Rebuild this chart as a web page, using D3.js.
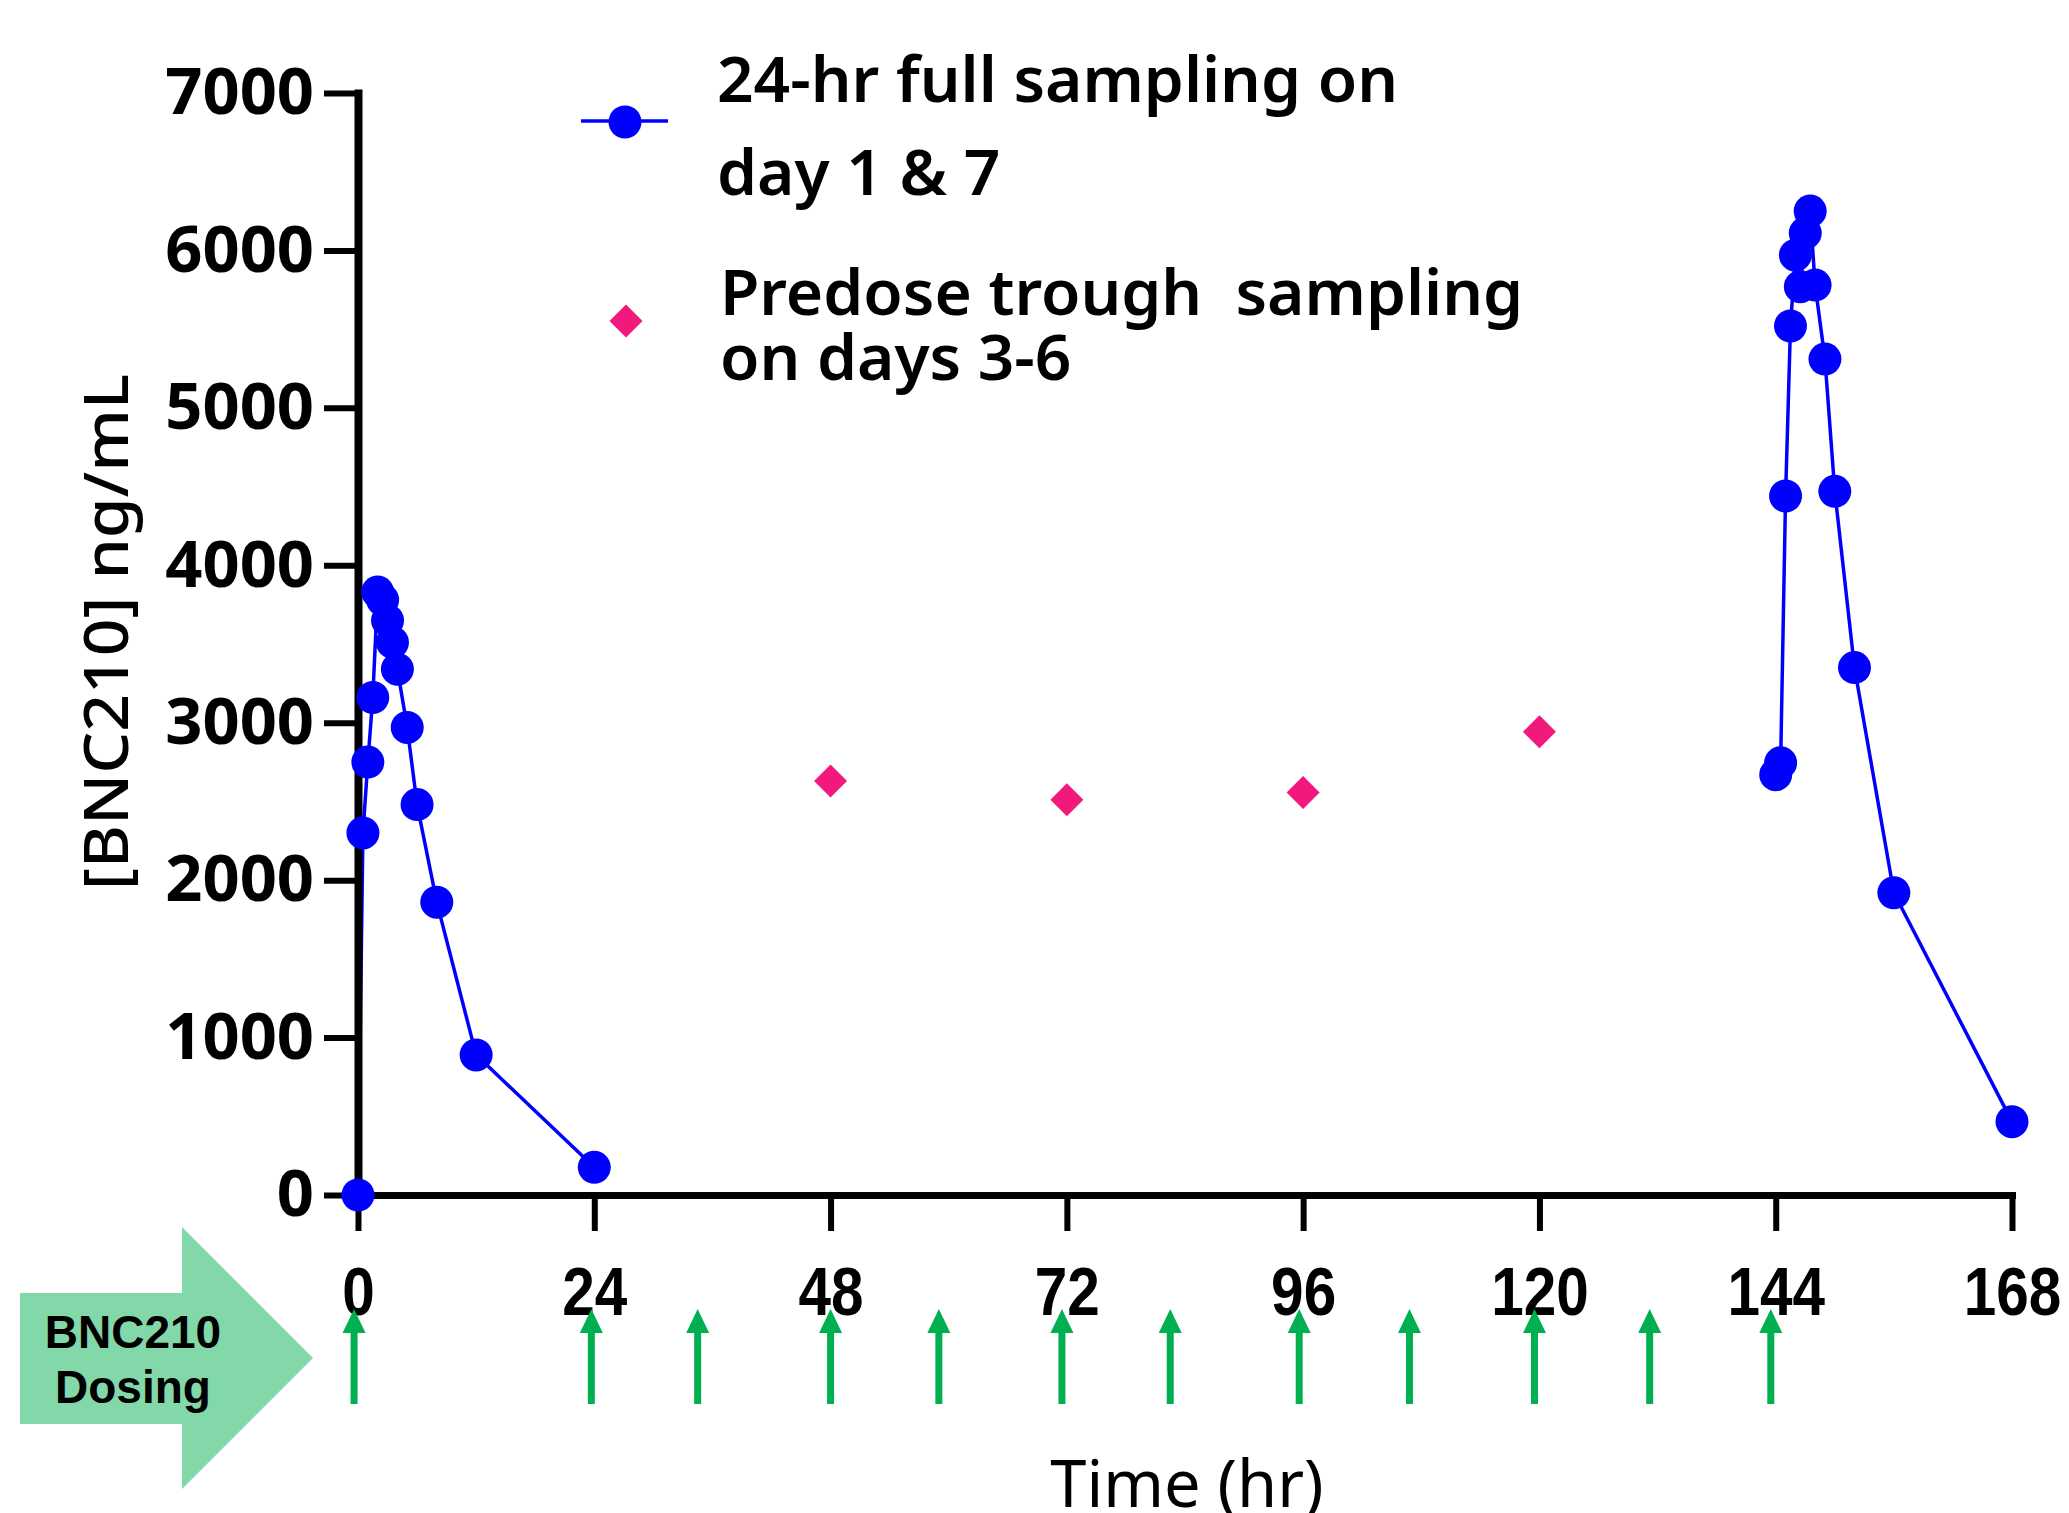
<!DOCTYPE html>
<html>
<head>
<meta charset="utf-8">
<script src="https://cdn.jsdelivr.net/npm/d3@7"></script>
<style>
  body { margin: 0; background: #fff; }
  svg { display: block; }
</style>
</head>
<body>
<div class="chart"></div>
<script>
// day 1 and day 7 full profiles (hr, ng/mL)
var timeDay1 = [0, 0.5, 1, 1.5, 2, 2.5, 3, 3.5, 4, 5, 6, 8, 12, 24];
var concDay1 = [0, 2300, 2750, 3160, 3830, 3780, 3650, 3510, 3340, 2970, 2480, 1860, 890, 176];
var timeDay7 = [144, 144.5, 145, 145.5, 146, 146.5, 147, 147.5, 148, 149, 150, 152, 156, 168];
var concDay7 = [2670, 2745, 4440, 5520, 5970, 5770, 6110, 6250, 5780, 5310, 4470, 3350, 1920, 466];

// predose troughs days 3-6
var troughTime = [48, 72, 96, 120];
var troughConc = [2630, 2510, 2557, 2942];

// dosing arrows (hr)
var doseTimes = [-0.4, 23.7, 34.5, 48, 59, 71.5, 82.5, 95.6, 106.8, 119.5, 131.2, 143.5];

var xTicks = [0, 24, 48, 72, 96, 120, 144, 168];
var yTicks = [0, 1000, 2000, 3000, 4000, 5000, 6000, 7000];

var legendLabels = [["24-hr full sampling on", "day 1 & 7"], ["Predose trough  sampling", "on days 3-6"]];

var svgWidth = 2069;
var svgHeight = 1513;

var svg = d3.select(".chart")
  .append("svg")
  .attr("width", svgWidth)
  .attr("height", svgHeight)
  .style("background", "#fff");

var x = d3.scaleLinear().domain([0, 168]).range([358, 2012]);
var y = d3.scaleLinear().domain([0, 7000]).range([1195, 93]);

var blue = "#0000ff";
var pink = "#f2197c";
var green = "#00b050";

// profile lines (drawn first so the axis covers the 0 -> 0.5 hr segment)
var line = d3.line().x(d => x(d[0])).y(d => y(d[1]));
var profiles = [d3.zip(timeDay1, concDay1), d3.zip(timeDay7, concDay7)];

svg.selectAll(".profile")
  .data(profiles)
  .enter()
  .append("path")
  .attr("class", "profile")
  .attr("d", line)
  .attr("fill", "none")
  .attr("stroke", blue)
  .attr("stroke-width", 3.5);

// y axis
var yAxis = svg.append("g")
  .attr("transform", "translate(358,0)")
  .call(d3.axisLeft(y).tickValues(yTicks).tickSize(34).tickSizeOuter(0).tickPadding(10).tickFormat(d3.format("d")));
yAxis.select(".domain").attr("stroke", "#000").attr("stroke-width", 8).attr("stroke-linecap", "square");
yAxis.selectAll(".tick line").attr("stroke", "#000").attr("stroke-width", 6);
yAxis.selectAll(".tick text")
  .attr("fill", "#000")
  .style("font-family", "'Noto Sans', sans-serif")
  .style("font-weight", 700)
  .style("font-size", "65px");

// x axis
var xAxis = svg.append("g")
  .attr("transform", "translate(0,1195)")
  .call(d3.axisBottom(x).tickValues(xTicks).tickSize(36).tickSizeOuter(0).tickPadding(36));
xAxis.select(".domain").attr("stroke", "#000").attr("stroke-width", 7).attr("stroke-linecap", "square");
xAxis.selectAll(".tick line").attr("stroke", "#000").attr("stroke-width", 6);
xAxis.selectAll(".tick text")
  .attr("fill", "#000")
  .attr("transform", "scale(0.86,1)")
  .style("font-family", "'Liberation Sans', Arial, sans-serif")
  .style("font-weight", 700)
  .style("font-size", "68px");

// axis titles
svg.append("text")
  .attr("transform", "translate(128,632) rotate(-90)")
  .attr("text-anchor", "middle")
  .attr("textLength", 516)
  .attr("lengthAdjust", "spacingAndGlyphs")
  .style("font-family", "'Noto Sans', sans-serif")
  .style("font-weight", 500)
  .style("font-size", "61px")
  .text("[BNC210] ng/mL");

svg.append("text")
  .attr("x", 1187)
  .attr("y", 1507)
  .attr("text-anchor", "middle")
  .style("font-family", "'Noto Sans', sans-serif")
  .style("font-size", "65px")
  .text("Time (hr)");

// sample points
svg.selectAll(".pt")
  .data(profiles[0].concat(profiles[1]))
  .enter()
  .append("circle")
  .attr("class", "pt")
  .attr("cx", d => x(d[0]))
  .attr("cy", d => y(d[1]))
  .attr("r", 16.5)
  .attr("fill", blue);

// trough diamonds
var diamond = "M0,-16.5L16.5,0L0,16.5L-16.5,0Z";
svg.selectAll(".trough")
  .data(d3.zip(troughTime, troughConc))
  .enter()
  .append("path")
  .attr("class", "trough")
  .attr("d", diamond)
  .attr("transform", d => `translate(${x(d[0])},${y(d[1])})`)
  .attr("fill", pink);

// legend
var legend = svg.append("g");
legend.append("line")
  .attr("x1", 581).attr("x2", 668)
  .attr("y1", 121).attr("y2", 121)
  .attr("stroke", blue).attr("stroke-width", 3.5);
legend.append("circle").attr("cx", 625).attr("cy", 122).attr("r", 16.5).attr("fill", blue);
legend.append("path").attr("d", diamond).attr("transform", "translate(626,321)").attr("fill", pink);

var legendText = legend.selectAll(".lg")
  .data([{ x: 717, y: [102, 195], t: legendLabels[0] }, { x: 720, y: [315, 380], t: legendLabels[1] }])
  .enter()
  .append("text")
  .attr("class", "lg")
  .style("font-family", "'Noto Sans', sans-serif")
  .style("font-weight", 600)
  .style("font-size", "64px")
  .style("white-space", "pre");
legendText.selectAll("tspan")
  .data(d => d.t.map((s, i) => ({ s: s, x: d.x, y: d.y[i] })))
  .enter()
  .append("tspan")
  .attr("x", d => d.x)
  .attr("y", d => d.y)
  .text(d => d.s);

// dosing block arrow
svg.append("polygon")
  .attr("points", "20,1293 182,1293 182,1227 313,1358 182,1489 182,1424 20,1424")
  .attr("fill", "#82d8a9");

svg.selectAll(".doseLabel")
  .data(["BNC210", "Dosing"])
  .enter()
  .append("text")
  .attr("x", 133)
  .attr("y", (d, i) => 1348 + i * 55)
  .attr("text-anchor", "middle")
  .style("font-family", "'Liberation Sans', Arial, sans-serif")
  .style("font-weight", 700)
  .style("font-size", "46px")
  .text(d => d);

// green dose arrows
var doseG = svg.selectAll(".dose")
  .data(doseTimes)
  .enter()
  .append("g")
  .attr("class", "dose")
  .attr("transform", d => `translate(${x(d)},0)`);
doseG.append("line")
  .attr("x1", 0).attr("x2", 0)
  .attr("y1", 1330).attr("y2", 1404)
  .attr("stroke", green).attr("stroke-width", 7);
doseG.append("path")
  .attr("d", "M0,1309L11.5,1333L-11.5,1333Z")
  .attr("fill", green);
</script>
</body>
</html>
